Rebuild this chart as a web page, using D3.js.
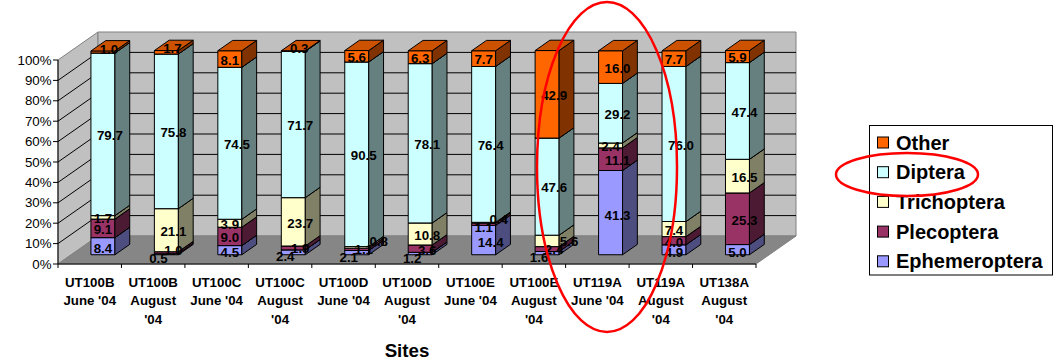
<!DOCTYPE html>
<html>
<head>
<meta charset="utf-8">
<script src="https://cdn.jsdelivr.net/npm/d3@7"></script>
<style>
  html, body { margin: 0; padding: 0; background: #fff; }
  svg { display: block; font-family: Arial, "Liberation Sans", sans-serif; }
</style>
</head>
<body>
<svg id="chart" width="1061" height="360"></svg>
<script>
// Sampling sites (category axis)
const categories = [
  "UT100B June '04", "UT100B August '04", "UT100C June '04", "UT100C August '04",
  "UT100D June '04", "UT100D August '04", "UT100E June '04", "UT100E August '04",
  "UT119A June '04", "UT119A August '04", "UT138A August '04"
];

// Percent composition of each sample, one array per taxon (bottom to top of stack)
const ephemeroptera = [8.4, 0.5, 4.5, 2.4, 2.1, 1.2, 14.4, 1.6, 41.3, 4.9, 5.0];
const plecoptera    = [9.1, 1.0, 9.0, 1.9, 1.1, 3.6, 1.1, 2.4, 11.1, 4.0, 25.3];
const trichoptera   = [1.7, 21.1, 3.9, 23.7, 0.8, 10.8, 0.4, 5.6, 2.4, 7.4, 16.5];
const diptera       = [79.7, 75.8, 74.5, 71.7, 90.5, 78.1, 76.4, 47.6, 29.2, 76.0, 47.4];
const other         = [1.0, 1.7, 8.1, 0.3, 5.6, 6.3, 7.7, 42.9, 16.0, 7.7, 5.9];

const seriesNames  = ["Ephemeroptera", "Plecoptera", "Trichoptera", "Diptera", "Other"];
const seriesColors = ["#9999FF", "#993366", "#FFFFCC", "#CCFFFF", "#FF6600"];
const legendOrder  = ["Other", "Diptera", "Trichoptera", "Plecoptera", "Ephemeroptera"];

const yTicks = [0, 10, 20, 30, 40, 50, 60, 70, 80, 90, 100];
const yTickLabels = ["0%", "10%", "20%", "30%", "40%", "50%", "60%", "70%", "80%", "90%", "100%"];
const xAxisTitle = "Sites";

// ---------------------------------------------------------------------------
const seriesValues = [ephemeroptera, plecoptera, trichoptera, diptera, other];
const rows = categories.map((c, i) => {
  const r = { category: c };
  seriesNames.forEach((s, k) => { r[s] = seriesValues[k][i]; });
  return r;
});
const stacked = d3.stack().keys(seriesNames)(rows);
const color = d3.scaleOrdinal().domain(seriesNames).range(seriesColors);

const svg = d3.select("#chart");
const x0 = 58, x1 = 756;
const y = d3.scaleLinear().domain([0, 100]).range([264, 60]);
const xCat = d3.scaleBand().domain(categories).range([x0, x1]).padding(0);
const xBar = d3.scaleBand().domain(categories).range([x0, x1])
  .paddingInner(0.622).paddingOuter(0.311);

// Oblique depth projection of the 3-D plot box
const DEPTH = { dx: 40, dy: -28 };
const P = (x, v, d) => [x + DEPTH.dx * d, y(v) + DEPTH.dy * d];
const poly = pts => "M" + pts.map(p => p.join(",")).join("L") + "Z";
const BAR_D0 = 0.33, BAR_D1 = 0.70;

// Walls and floor
const g = svg.append("g");
g.append("path").attr("d", poly([P(x0, 0, 0), P(x0, 100, 0), P(x0, 100, 1), P(x0, 0, 1)]))
  .attr("fill", "#C0C0C0").attr("stroke", "#808080").attr("stroke-width", 1);
g.append("path").attr("d", poly([P(x0, 0, 1), P(x1, 0, 1), P(x1, 100, 1), P(x0, 100, 1)]))
  .attr("fill", "#C0C0C0").attr("stroke", "#808080").attr("stroke-width", 1);
g.append("path").attr("d", poly([P(x0, 0, 0), P(x1, 0, 0), P(x1, 0, 1), P(x0, 0, 1)]))
  .attr("fill", "#868686").attr("stroke", "#808080").attr("stroke-width", 1);

// Gridlines across left and back walls
g.selectAll("path.grid").data(yTicks.filter(v => v > 0 && v < 100)).join("path")
  .attr("class", "grid")
  .attr("d", v => "M" + [P(x0, v, 0), P(x0, v, 1), P(x1, v, 1)].map(p => p.join(",")).join("L"))
  .attr("fill", "none").attr("stroke", "#000").attr("stroke-width", 1);

// Value axis
const yAxis = svg.append("g");
yAxis.append("line").attr("x1", x0).attr("x2", x0).attr("y1", y(0)).attr("y2", y(100))
  .attr("stroke", "#000");
yAxis.selectAll("line.tick").data(yTicks).join("line").attr("class", "tick")
  .attr("x1", x0 - 5).attr("x2", x0).attr("y1", v => y(v)).attr("y2", v => y(v))
  .attr("stroke", "#000");
yAxis.selectAll("text").data(yTicks).join("text")
  .attr("x", x0 - 6.5).attr("y", v => y(v)).attr("dy", "0.35em")
  .attr("text-anchor", "end").attr("font-size", 13.3).attr("fill", "#000")
  .text((v, i) => yTickLabels[i]);

// Category axis
const xAxis = svg.append("g");
xAxis.append("line").attr("x1", x0).attr("x2", x1).attr("y1", y(0)).attr("y2", y(0))
  .attr("stroke", "#000");
const tickXs = categories.map(c => xCat(c)).concat([x1]);
xAxis.selectAll("line.tick").data(tickXs).join("line").attr("class", "tick")
  .attr("x1", d => d).attr("x2", d => d).attr("y1", y(0)).attr("y2", y(0) + 4)
  .attr("stroke", "#000");

const catLabels = xAxis.selectAll("text").data(categories).join("text")
  .attr("text-anchor", "middle").attr("font-size", 13.3).attr("font-weight", "bold")
  .attr("fill", "#000");
catLabels.each(function (c) {
  const t = d3.select(this);
  const cx = xCat(c) + xCat.bandwidth() / 2;
  const words = c.split(" ");
  const lines = [];
  let cur = "";
  const probe = t.append("tspan");
  words.forEach(w => {
    const trial = cur ? cur + " " + w : w;
    probe.text(trial);
    if (cur && probe.node().getComputedTextLength() > xCat.bandwidth() - 2) {
      lines.push(cur); cur = w;
    } else cur = trial;
  });
  lines.push(cur);
  probe.remove();
  lines.forEach((ln, k) => {
    t.append("tspan").attr("x", cx).attr("y", 282 + k * 18.6).attr("dy", "0.35em").text(ln);
  });
});

svg.append("text").attr("x", (x0 + x1) / 2).attr("y", 350.5).attr("dy", "0.35em")
  .attr("text-anchor", "middle").attr("font-size", 18.7).attr("font-weight", "bold")
  .attr("fill", "#000").text(xAxisTitle);

// 3-D stacked columns
const shade = (c, k) => { const r = d3.rgb(c); return d3.rgb(r.r * k, r.g * k, r.b * k).formatHex(); };
const bars = svg.append("g");
categories.forEach((c, i) => {
  const xa = xBar(c), xb = xa + xBar.bandwidth();
  stacked.forEach(layer => {
    const [v0, v1] = layer[i];
    const col = color(layer.key);
    const seg = bars.append("g");
    seg.append("path").attr("d", poly([P(xa, v0, BAR_D0), P(xb, v0, BAR_D0), P(xb, v1, BAR_D0), P(xa, v1, BAR_D0)]))
      .attr("fill", col).attr("stroke", "#000").attr("stroke-width", 1).attr("stroke-linejoin", "round");
    seg.append("path").attr("d", poly([P(xb, v0, BAR_D0), P(xb, v0, BAR_D1), P(xb, v1, BAR_D1), P(xb, v1, BAR_D0)]))
      .attr("fill", shade(col, 0.5)).attr("stroke", "#000").attr("stroke-width", 1).attr("stroke-linejoin", "round");
    seg.append("path").attr("d", poly([P(xa, v1, BAR_D0), P(xb, v1, BAR_D0), P(xb, v1, BAR_D1), P(xa, v1, BAR_D1)]))
      .attr("fill", shade(col, 0.8)).attr("stroke", "#000").attr("stroke-width", 1).attr("stroke-linejoin", "round");
  });
});

// Data labels, staggered along the depth direction where they would collide
const labels = svg.append("g").attr("font-size", 13.3).attr("font-weight", "bold")
  .attr("fill", "#000").attr("text-anchor", "middle");
categories.forEach((c, i) => {
  const cxFront = xBar(c) + xBar.bandwidth() / 2 + DEPTH.dx * BAR_D0;
  const items = stacked.map((layer, k) => {
    const [v0, v1] = layer[i];
    const value = seriesValues[k][i];
    const midY = P(0, (v0 + v1) / 2, BAR_D0)[1];
    const off = k === 0 ? 2.5 : 1.2;
    return { k, value, v1, baseY: midY + off, x: cxFront + (value >= 10 ? 7 : 0), y: midY + off };
  });
  items.forEach((it, j) => {
    const last = j === items.length - 1;
    const prev = items[j - 1];
    const collides = prev && (prev.baseY - it.baseY) < 8.7;
    if (collides) {
      if (!prev.chained) {
        prev.chained = true;
        if (prev.k === 0) { prev.x = cxFront - 8; prev.y = prev.baseY + 2; }
        else { prev.x = cxFront; prev.y = prev.baseY + 2; }
      }
      it.chained = true;
      it.x = prev.x + 15; it.y = prev.y - 8;
    } else if (last && it.value < 3) {
      it.x = cxFront + 6; it.y = P(0, it.v1, BAR_D0)[1] - 2;
    }
  });
  items.forEach(it => {
    labels.append("text").attr("x", it.x).attr("y", it.y).attr("dy", "0.35em")
      .text(it.value.toFixed(1));
  });
});

// Legend
const legend = svg.append("g");
legend.append("rect").attr("x", 869.5).attr("y", 125.5).attr("width", 183).attr("height", 149.5)
  .attr("fill", "#fff").attr("stroke", "#000").attr("stroke-width", 1);
legendOrder.forEach((name, k) => {
  const ly = 142.5 + k * 29.7;
  legend.append("rect").attr("x", 877.5).attr("y", ly - 5.5).attr("width", 11).attr("height", 11)
    .attr("fill", color(name)).attr("stroke", "#000").attr("stroke-width", 1);
  legend.append("text").attr("x", 896).attr("y", ly).attr("dy", "0.35em")
    .attr("font-size", 20).attr("font-weight", "bold").attr("fill", "#000").text(name);
});

// Highlight rings
const marks = svg.append("g").attr("fill", "none").attr("stroke", "#FF0000").attr("stroke-width", 2.5);
marks.append("ellipse").attr("cx", 607).attr("cy", 167).attr("rx", 70).attr("ry", 165);
marks.append("ellipse").attr("cx", 907).attr("cy", 174.5).attr("rx", 71).attr("ry", 21.5);
</script>
</body>
</html>
